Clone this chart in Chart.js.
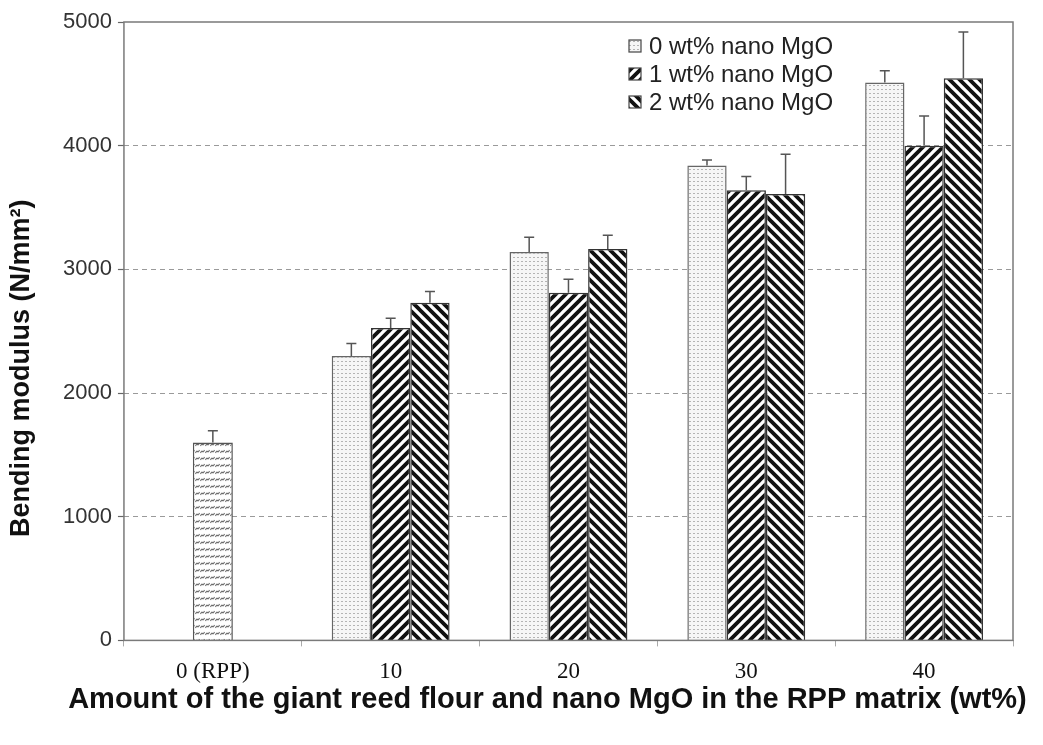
<!DOCTYPE html>
<html>
<head>
<meta charset="utf-8">
<script src="https://cdn.jsdelivr.net/npm/chart.js@4.4.1/dist/chart.umd.min.js"></script>
<style>
  html, body { margin: 0; padding: 0; background: #ffffff; }
  #wrap { width: 1043px; height: 745px; }
</style>
</head>
<body>
<div id="wrap"><canvas id="chart" width="1043" height="745"></canvas></div>
<script>
// Category labels (flour + nano MgO content, wt%)
const categories = ['0 (RPP)', '10', '20', '30', '40'];

// Neat recycled polypropylene (single bar)
const rppModulus = [1600, null, null, null, null];
const rppError   = [95, null, null, null, null];

// Composites with 0, 1 and 2 wt% nano MgO
const mgo0Modulus = [null, 2300, 3140, 3840, 4510];
const mgo0Error   = [null, 100, 120, 45, 95];
const mgo1Modulus = [null, 2525, 2810, 3640, 4000];
const mgo1Error   = [null, 80, 110, 110, 240];
const mgo2Modulus = [null, 2730, 3165, 3610, 4545];
const mgo2Error   = [null, 90, 110, 320, 375];

const seriesNames = ['0 wt% nano MgO', '1 wt% nano MgO', '2 wt% nano MgO'];
const yTicks = [0, 1000, 2000, 3000, 4000, 5000];
const xTitle = 'Amount of the giant reed flour and nano MgO in the RPP matrix (wt%)';
const yTitle = 'Bending modulus (N/mm²)';

const SANS = '"Liberation Sans", Arial, sans-serif';
const SERIF = '"Liberation Serif", "Times New Roman", serif';

// ---- fill patterns ----
function makeTile(w, h, draw) {
  const c = document.createElement('canvas');
  c.width = w; c.height = h;
  const g = c.getContext('2d');
  draw(g, w, h);
  return document.getElementById('chart').getContext('2d').createPattern(c, 'repeat');
}
const dotPattern = makeTile(4, 4, (g) => {
  g.fillStyle = '#f6f6f6'; g.fillRect(0, 0, 4, 4);
  g.fillStyle = '#b4b4b4'; g.fillRect(1, 1, 2, 1);
});
const slashPattern = makeTile(10, 10, (g, s) => {
  g.fillStyle = '#ffffff'; g.fillRect(0, 0, s, s);
  g.strokeStyle = '#111'; g.lineWidth = 3.8; g.lineCap = 'square';
  g.beginPath();
  g.moveTo(0, s); g.lineTo(s, 0);
  g.moveTo(-1, 1); g.lineTo(1, -1);
  g.moveTo(s - 1, s + 1); g.lineTo(s + 1, s - 1);
  g.stroke();
});
const backslashPattern = makeTile(10, 10, (g, s) => {
  g.fillStyle = '#ffffff'; g.fillRect(0, 0, s, s);
  g.strokeStyle = '#111'; g.lineWidth = 3.8; g.lineCap = 'square';
  g.beginPath();
  g.moveTo(0, 0); g.lineTo(s, s);
  g.moveTo(-1, s - 1); g.lineTo(1, s + 1);
  g.moveTo(s - 1, -1); g.lineTo(s + 1, 1);
  g.stroke();
});
const wavePattern = makeTile(5, 7, (g) => {
  g.fillStyle = '#ffffff'; g.fillRect(0, 0, 5, 7);
  g.strokeStyle = '#6a6a6a'; g.lineWidth = 1.2;
  g.beginPath();
  g.moveTo(0.5, 5); g.quadraticCurveTo(1.5, 2.5, 2.5, 3.5); g.quadraticCurveTo(3.5, 4.5, 4.5, 2);
  g.stroke();
});

const seriesFills = [dotPattern, slashPattern, backslashPattern];
const seriesBorders = ['#666666', '#333333', '#333333'];

// ---- plugins ----
// upper error whiskers, placed with the value scale
const errorBars = {
  id: 'errorBars',
  afterDatasetsDraw(chart) {
    const ctx = chart.ctx;
    ctx.save();
    ctx.strokeStyle = '#555';
    ctx.lineWidth = 1.5;
    chart.data.datasets.forEach((ds, i) => {
      const meta = chart.getDatasetMeta(i);
      const yScale = chart.scales[meta.yAxisID];
      meta.data.forEach((bar, j) => {
        const v = ds.data[j], e = ds.errors[j];
        if (v == null || e == null) return;
        const yTop = yScale.getPixelForValue(v + e);
        ctx.beginPath();
        ctx.moveTo(bar.x, bar.y);
        ctx.lineTo(bar.x, yTop);
        ctx.moveTo(bar.x - 5, yTop);
        ctx.lineTo(bar.x + 5, yTop);
        ctx.stroke();
      });
    });
    ctx.restore();
  }
};

// box around the plotting area
const frame = {
  id: 'frame',
  afterDatasetsDraw(chart) {
    const a = chart.chartArea, ctx = chart.ctx;
    ctx.save();
    ctx.strokeStyle = '#7a7a7a';
    ctx.lineWidth = 1.5;
    ctx.strokeRect(a.left, a.top, a.right - a.left, a.bottom - a.top);
    ctx.restore();
  }
};

// legend inside the plot, top right
const boxLegend = {
  id: 'boxLegend',
  afterDraw(chart) {
    const a = chart.chartArea, ctx = chart.ctx;
    ctx.save();
    ctx.font = '24px ' + SANS;
    ctx.textBaseline = 'middle';
    seriesNames.forEach((name, i) => {
      const y = a.top + 24 + i * 28;
      const x = a.right - 384;
      ctx.fillStyle = seriesFills[i];
      ctx.fillRect(x, y - 6, 12, 12);
      ctx.strokeStyle = '#444';
      ctx.lineWidth = 1.2;
      ctx.strokeRect(x, y - 6, 12, 12);
      ctx.fillStyle = '#222';
      ctx.fillText(name, x + 20, y + 1);
    });
    ctx.restore();
  }
};

// axis titles
const axisTitles = {
  id: 'axisTitles',
  afterDraw(chart) {
    const a = chart.chartArea, ctx = chart.ctx;
    ctx.save();
    ctx.fillStyle = '#111';
    ctx.textAlign = 'center';
    ctx.textBaseline = 'middle';
    ctx.font = 'bold 29px ' + SANS;
    ctx.fillText(xTitle, (a.left + a.right) / 2 - 21, a.bottom + 60);
    ctx.translate(a.left - 102, (a.top + a.bottom) / 2 + 37);
    ctx.rotate(-Math.PI / 2);
    ctx.font = 'bold 27px ' + SANS;
    ctx.fillText(yTitle, 0, 0);
    ctx.restore();
  }
};

const seriesData = [mgo0Modulus, mgo1Modulus, mgo2Modulus];
const seriesErrors = [mgo0Error, mgo1Error, mgo2Error];

const datasets = seriesNames.map((name, i) => ({
  label: name,
  data: seriesData[i],
  errors: seriesErrors[i],
  backgroundColor: seriesFills[i],
  borderColor: seriesBorders[i],
  borderWidth: 1.5,
  categoryPercentage: 0.663,
  barPercentage: 1.0
}));
datasets.push({
  label: 'RPP',
  data: rppModulus,
  errors: rppError,
  backgroundColor: wavePattern,
  borderColor: '#555',
  borderWidth: 1.5,
  grouped: false,
  categoryPercentage: 0.225,
  barPercentage: 1.0
});

new Chart(document.getElementById('chart'), {
  type: 'bar',
  data: { labels: categories, datasets },
  options: {
    responsive: false,
    animation: false,
    layout: { padding: { left: 57, right: 30, top: 22, bottom: 47 } },
    plugins: { legend: { display: false }, tooltip: { enabled: false } },
    scales: {
      x: {
        type: 'category',
        offset: true,
        grid: {
          offset: true,
          drawOnChartArea: false,
          drawTicks: true,
          tickLength: 6,
          tickColor: '#aaa',
          tickWidth: 1
        },
        border: { display: false },
        ticks: {
          color: '#111',
          padding: 12,
          font: { family: SERIF, size: 23 }
        }
      },
      y: {
        min: 0,
        max: 5000,
        afterBuildTicks(scale) { scale.ticks = yTicks.map(v => ({ value: v })); },
        grid: {
          color: (c) => (c.tick && (c.tick.value === 0 || c.tick.value === 5000)) ? 'rgba(0,0,0,0)' : '#9a9a9a',
          lineWidth: 1,
          tickColor: '#666',
          tickLength: 6,
          tickWidth: 1.2,
          tickBorderDash: []
        },
        border: { display: false, dash: [5, 4] },
        ticks: {
          color: '#333',
          padding: 6,
          font: { family: SANS, size: 22 },
          callback: (v) => String(v)
        }
      }
    }
  },
  plugins: [errorBars, frame, boxLegend, axisTitles]
});
</script>
</body>
</html>
